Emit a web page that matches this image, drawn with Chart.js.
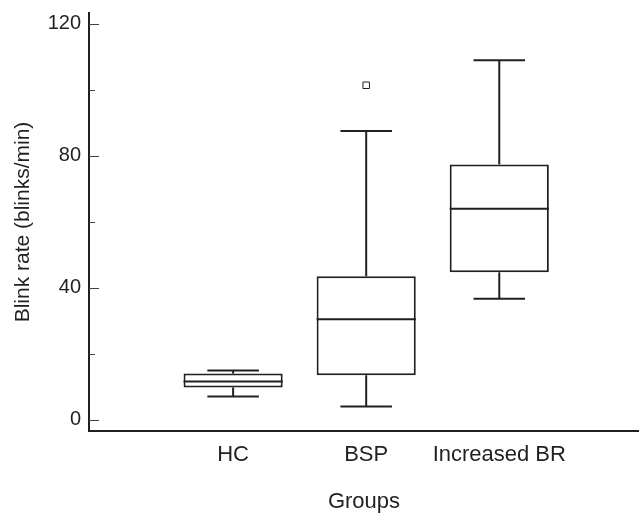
<!DOCTYPE html>
<html>
<head>
<meta charset="utf-8">
<script src="https://cdn.jsdelivr.net/npm/chart.js@4/dist/chart.umd.min.js"></script>
<style>
  html, body { margin: 0; padding: 0; background: #fff; }
  #wrap { width: 639px; height: 513px; position: relative; }
</style>
</head>
<body>
<div id="wrap"><canvas id="chart"></canvas></div>
<script>
// box plot values (blinks/min)
const groups = ['HC', 'BSP', 'Increased BR'];
const whiskerLow = [7.05, 4.0, 36.7];
const q1 = [9.8, 13.5, 44.7];
const median = [11.6, 30.5, 64.0];
const q3 = [14.0, 43.5, 77.4];
const whiskerHigh = [14.95, 87.5, 109.0];
const outlierGroup = [2];
const outlierValue = [101.4];
const yTicks = [0, 20, 40, 60, 80, 100, 120];

const ink = '#231f20';
Chart.defaults.font.family = '"Liberation Sans", Arial, sans-serif';
Chart.defaults.color = ink;

const line = (ctx, x1, y1, x2, y2) => {
  ctx.beginPath();
  ctx.moveTo(x1, y1);
  ctx.lineTo(x2, y2);
  ctx.stroke();
};

// no label overhang padding, the plot area is set by the layout padding
const noOverhang = s => {
  s.paddingTop = 0;
  s.paddingBottom = 0;
  s.paddingLeft = 0;
  s.paddingRight = 0;
};

// whiskers, caps, medians and the inward y tick marks
const boxLines = {
  id: 'boxLines',
  afterDatasetsDraw(chart) {
    const ctx = chart.ctx;
    const x = chart.scales.x, y = chart.scales.y;
    const meta = chart.getDatasetMeta(0);
    ctx.save();
    ctx.strokeStyle = ink;
    ctx.lineWidth = 2;
    groups.forEach((g, i) => {
      const cx = x.getPixelForValue(i + 1);
      const half = meta.data[i].width / 2;
      const cap = half * 0.52;
      const yMed = y.getPixelForValue(median[i]);
      const yHi = y.getPixelForValue(whiskerHigh[i]);
      const yLo = y.getPixelForValue(whiskerLow[i]);
      line(ctx, cx - half, yMed, cx + half, yMed);
      line(ctx, cx, y.getPixelForValue(q3[i]), cx, yHi);
      line(ctx, cx - cap, yHi, cx + cap, yHi);
      line(ctx, cx, y.getPixelForValue(q1[i]), cx, yLo);
      line(ctx, cx - cap, yLo, cx + cap, yLo);
    });
    ctx.lineWidth = 1;
    ctx.strokeStyle = '#444';
    const left = chart.chartArea.left;
    y.ticks.forEach(t => {
      const py = Math.round(y.getPixelForValue(t.value)) + 0.5;
      const len = t.value % 40 === 0 ? 10 : 6;
      line(ctx, left, py, left + len, py);
    });
    ctx.restore();
  }
};

new Chart(document.getElementById('chart'), {
  type: 'bar',
  data: {
    datasets: [{
      data: groups.map((g, i) => ({ x: i + 1, y: [q1[i], q3[i]] })),
      backgroundColor: '#fff',
      borderColor: ink,
      borderWidth: 2,
      borderSkipped: false,
      barPercentage: 0.745,
      categoryPercentage: 1
    }, {
      type: 'scatter',
      data: outlierGroup.map((g, i) => ({ x: g, y: outlierValue[i] })),
      pointStyle: 'rect',
      radius: 4.6,
      borderWidth: 1,
      borderColor: ink,
      backgroundColor: '#fff'
    }]
  },
  options: {
    responsive: true,
    maintainAspectRatio: false,
    animation: false,
    layout: { autoPadding: false, padding: { top: 13, right: 0, bottom: 0, left: 0 } },
    plugins: { legend: { display: false }, tooltip: { enabled: false } },
    scales: {
      x: {
        type: 'linear',
        offset: false,
        min: -0.083,
        max: 4.05,
        grid: { display: false, drawTicks: false },
        border: { display: true, color: ink, width: 2 },
        afterBuildTicks: s => { s.ticks = groups.map((g, i) => ({ value: i + 1 })); },
        afterFit: s => { s.height = 82; noOverhang(s); },
        ticks: {
          autoSkip: false,
          maxRotation: 0,
          padding: 11,
          font: { size: 22 },
          callback: v => groups[v - 1]
        },
        title: {
          display: true,
          text: 'Groups',
          font: { size: 22, lineHeight: 1 },
          padding: { top: 0, bottom: 0 }
        }
      },
      y: {
        min: -3.4,
        max: 123.3,
        grid: { display: false, drawTicks: false },
        border: { display: true, color: ink, width: 2 },
        afterBuildTicks: s => { s.ticks = yTicks.map(v => ({ value: v })); },
        afterFit: s => { s.width = 89; noOverhang(s); },
        ticks: {
          padding: 8,
          font: { size: 20 },
          callback: v => (v % 40 === 0 ? v : '')
        },
        title: {
          display: true,
          text: 'Blink rate (blinks/min)',
          font: { size: 21 },
          padding: { top: 11, bottom: 0 }
        }
      }
    }
  },
  plugins: [boxLines]
});
</script>
</body>
</html>
